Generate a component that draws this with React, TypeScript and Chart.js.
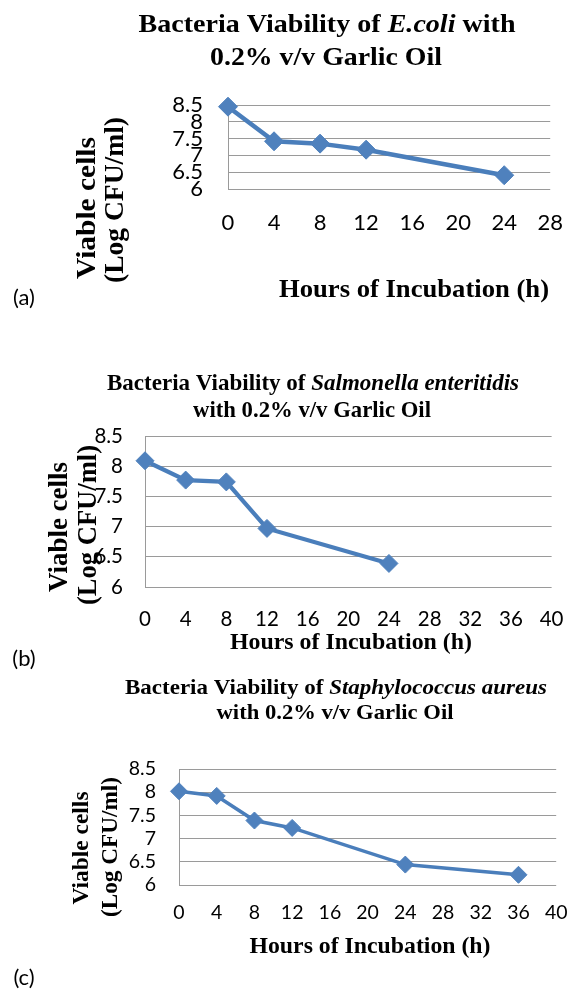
import React, { useEffect, useRef } from "react";
import { Chart, registerables } from "chart.js";

Chart.register(...registerables);

// ---- Data ----
const hoursA = [0, 4, 8, 12, 24];
const viableA = [8.45, 7.42, 7.35, 7.17, 6.41];

const hoursB = [0, 4, 8, 12, 24];
const viableB = [8.09, 7.77, 7.74, 6.97, 6.39];

const hoursC = [0, 4, 8, 12, 24, 36];
const viableC = [8.02, 7.92, 7.39, 7.23, 6.44, 6.22];

const yMin = 6;
const yMax = 8.5;
const yStep = 0.5;
const xStep = 4;
const xMaxA = 28;
const xMaxB = 40;
const xMaxC = 40;

const organismA = "E.coli";
const organismB = "Salmonella enteritidis";
const organismC = "Staphylococcus aureus";
const titlePrefix = "Bacteria Viability of ";
const garlic = "0.2% v/v Garlic Oil";
const yTitle1 = "Viable cells";
const yTitle2 = "(Log CFU/ml)";
const xTitle = "Hours of Incubation (h)";
const panelLabels = ["(a)", "(b)", "(c)"];

// ---- Rich text drawing ----
type Seg = { t: string; i?: boolean };
type Txt = {
  segs: Seg[];
  x: number;
  y: number;
  size: number;
  w?: number;
  rot?: boolean;
  sans?: boolean;
};

const SERIF = '"Liberation Serif", "Times New Roman", serif';
const SANS = 'Lato, "Open Sans", sans-serif';

function drawItem(ctx: CanvasRenderingContext2D, it: Txt, top: number) {
  ctx.save();
  const fam = it.sans ? SANS : SERIF;
  const weight = it.sans ? "normal" : "bold";
  const fontFor = (s: Seg) => `${s.i ? "italic " : ""}${weight} ${it.size}px ${fam}`;
  let total = 0;
  const widths = it.segs.map((s) => {
    ctx.font = fontFor(s);
    const w = ctx.measureText(s.t).width;
    total += w;
    return w;
  });
  const sx = it.w ? it.w / total : 1;
  ctx.translate(it.x, it.y - top);
  if (it.rot) ctx.rotate(-Math.PI / 2);
  ctx.scale(sx, 1);
  ctx.textBaseline = "middle";
  ctx.textAlign = "left";
  ctx.fillStyle = "#000";
  let x = -total / 2;
  it.segs.forEach((s, k) => {
    ctx.font = fontFor(s);
    ctx.fillText(s.t, x, 0);
    x += widths[k];
  });
  ctx.restore();
}

type PanelCfg = {
  top: number;
  h: number;
  xs: number[];
  ys: number[];
  xMax: number;
  area: { L: number; R: number; T: number; B: number };
  tickSize: number;
  xPad: number;
  yPad: number;
  radius: number;
  lw: number;
  texts: Txt[];
};

const W_Y = 80;
const H_X = 60;

const panels: PanelCfg[] = [
  {
    top: 0,
    h: 330,
    xs: hoursA,
    ys: viableA,
    xMax: xMaxA,
    area: { L: 228, R: 571, T: 105, B: 189 },
    tickSize: 22,
    xPad: 21,
    yPad: 25,
    radius: 9.5,
    lw: 4.5,
    texts: [
      { segs: [{ t: titlePrefix }, { t: organismA, i: true }, { t: " with" }], x: 327, y: 25, size: 26, w: 377 },
      { segs: [{ t: garlic }], x: 326, y: 58, size: 26, w: 232 },
      { segs: [{ t: yTitle1 }], x: 88, y: 208, size: 28, rot: true, w: 142 },
      { segs: [{ t: yTitle2 }], x: 116, y: 200, size: 28, rot: true, w: 166 },
      { segs: [{ t: xTitle }], x: 414, y: 290, size: 26, w: 270 },
      { segs: [{ t: panelLabels[0] }], x: 24, y: 298, size: 22, sans: true },
    ],
  },
  {
    top: 330,
    h: 345,
    xs: hoursB,
    ys: viableB,
    xMax: xMaxB,
    area: { L: 145, R: 556, T: 436, B: 587 },
    tickSize: 20.5,
    xPad: 20.5,
    yPad: 22,
    radius: 9,
    lw: 4.2,
    texts: [
      { segs: [{ t: titlePrefix }, { t: organismB, i: true }], x: 313, y: 384, size: 23, w: 412 },
      { segs: [{ t: "with " + garlic }], x: 312, y: 411, size: 23, w: 238 },
      { segs: [{ t: yTitle1 }], x: 60, y: 527, size: 26.5, rot: true, w: 130 },
      { segs: [{ t: yTitle2 }], x: 89, y: 525, size: 26.5, rot: true, w: 160 },
      { segs: [{ t: xTitle }], x: 351, y: 643, size: 23.5, w: 242 },
      { segs: [{ t: panelLabels[1] }], x: 24, y: 659, size: 22, sans: true },
    ],
  },
  {
    top: 675,
    h: 315,
    xs: hoursC,
    ys: viableC,
    xMax: xMaxC,
    area: { L: 179, R: 560, T: 769, B: 885 },
    tickSize: 19.5,
    xPad: 16.5,
    yPad: 23,
    radius: 8.5,
    lw: 3.5,
    texts: [
      { segs: [{ t: titlePrefix }, { t: organismC, i: true }], x: 336, y: 688, size: 22, w: 422 },
      { segs: [{ t: "with " + garlic }], x: 335, y: 713, size: 22, w: 237 },
      { segs: [{ t: yTitle1 }], x: 82, y: 848, size: 23.3, rot: true, w: 113 },
      { segs: [{ t: yTitle2 }], x: 111, y: 847, size: 23.3, rot: true, w: 140 },
      { segs: [{ t: xTitle }], x: 370, y: 947, size: 23, w: 241 },
      { segs: [{ t: panelLabels[2] }], x: 24, y: 978, size: 22, sans: true },
    ],
  },
];

function Panel({ cfg }: { cfg: PanelCfg }) {
  const ref = useRef<HTMLCanvasElement>(null);
  useEffect(() => {
    if (!ref.current) return;
    const { area } = cfg;
    const pad = {
      left: area.L - W_Y,
      right: 584 - area.R,
      top: area.T - cfg.top,
      bottom: cfg.top + cfg.h - area.B - H_X,
    };
    const gridColor = "#9a9a9a";
    const textPlugin = {
      id: "richText",
      afterDraw(chart: any) {
        const ctx = chart.ctx as CanvasRenderingContext2D;
        cfg.texts.forEach((t) => drawItem(ctx, t, cfg.top));
      },
    };
    const chart = new Chart(ref.current, {
      type: "line",
      data: {
        datasets: [
          {
            data: cfg.xs.map((x, i) => ({ x, y: cfg.ys[i] })),
            borderColor: "#4A7EBB",
            backgroundColor: "#4F81BD",
            borderWidth: cfg.lw,
            pointStyle: "rectRot",
            pointRadius: cfg.radius,
            pointBackgroundColor: "#4F81BD",
            pointBorderColor: "#4F81BD",
            pointBorderWidth: 1,
            tension: 0,
            clip: false as any,
          },
        ],
      },
      options: {
        responsive: false,
        animation: false,
        layout: { padding: pad },
        plugins: {
          legend: { display: false },
          tooltip: { enabled: false },
          title: { display: false },
        },
        scales: {
          x: {
            type: "linear",
            min: 0,
            max: cfg.xMax,
            ticks: {
              stepSize: xStep,
              color: "#000",
              font: { family: SANS, size: cfg.tickSize },
              padding: cfg.xPad,
              maxRotation: 0,
              autoSkip: false,
              callback: (v: any) => String(Number(v)),
            },
            grid: { display: false, drawTicks: false },
            border: { display: false },
            afterFit: (s: any) => {
              s.height = H_X;
            },
          },
          y: {
            type: "linear",
            min: yMin,
            max: yMax,
            ticks: {
              stepSize: yStep,
              color: "#000",
              font: { family: SANS, size: cfg.tickSize },
              padding: cfg.yPad,
              autoSkip: false,
              callback: (v: any) => String(Number(v)),
            },
            grid: { color: gridColor, lineWidth: 1, drawTicks: false },
            border: { display: true, color: gridColor, width: 1 },
            afterFit: (s: any) => {
              s.width = W_Y;
            },
          },
        },
      } as any,
      plugins: [textPlugin],
    });
    return () => chart.destroy();
  }, [cfg]);
  return (
    <canvas
      ref={ref}
      width={584}
      height={cfg.h}
      style={{ position: "absolute", left: 0, top: cfg.top, width: 584, height: cfg.h }}
    />
  );
}

export default function App() {
  useEffect(() => {
    document.body.style.margin = "0";
    document.body.style.background = "#fff";
  }, []);
  return (
    <div style={{ position: "relative", width: 584, height: 990, background: "#fff", overflow: "hidden" }}>
      {panels.map((p, i) => (
        <Panel key={i} cfg={p} />
      ))}
    </div>
  );
}
